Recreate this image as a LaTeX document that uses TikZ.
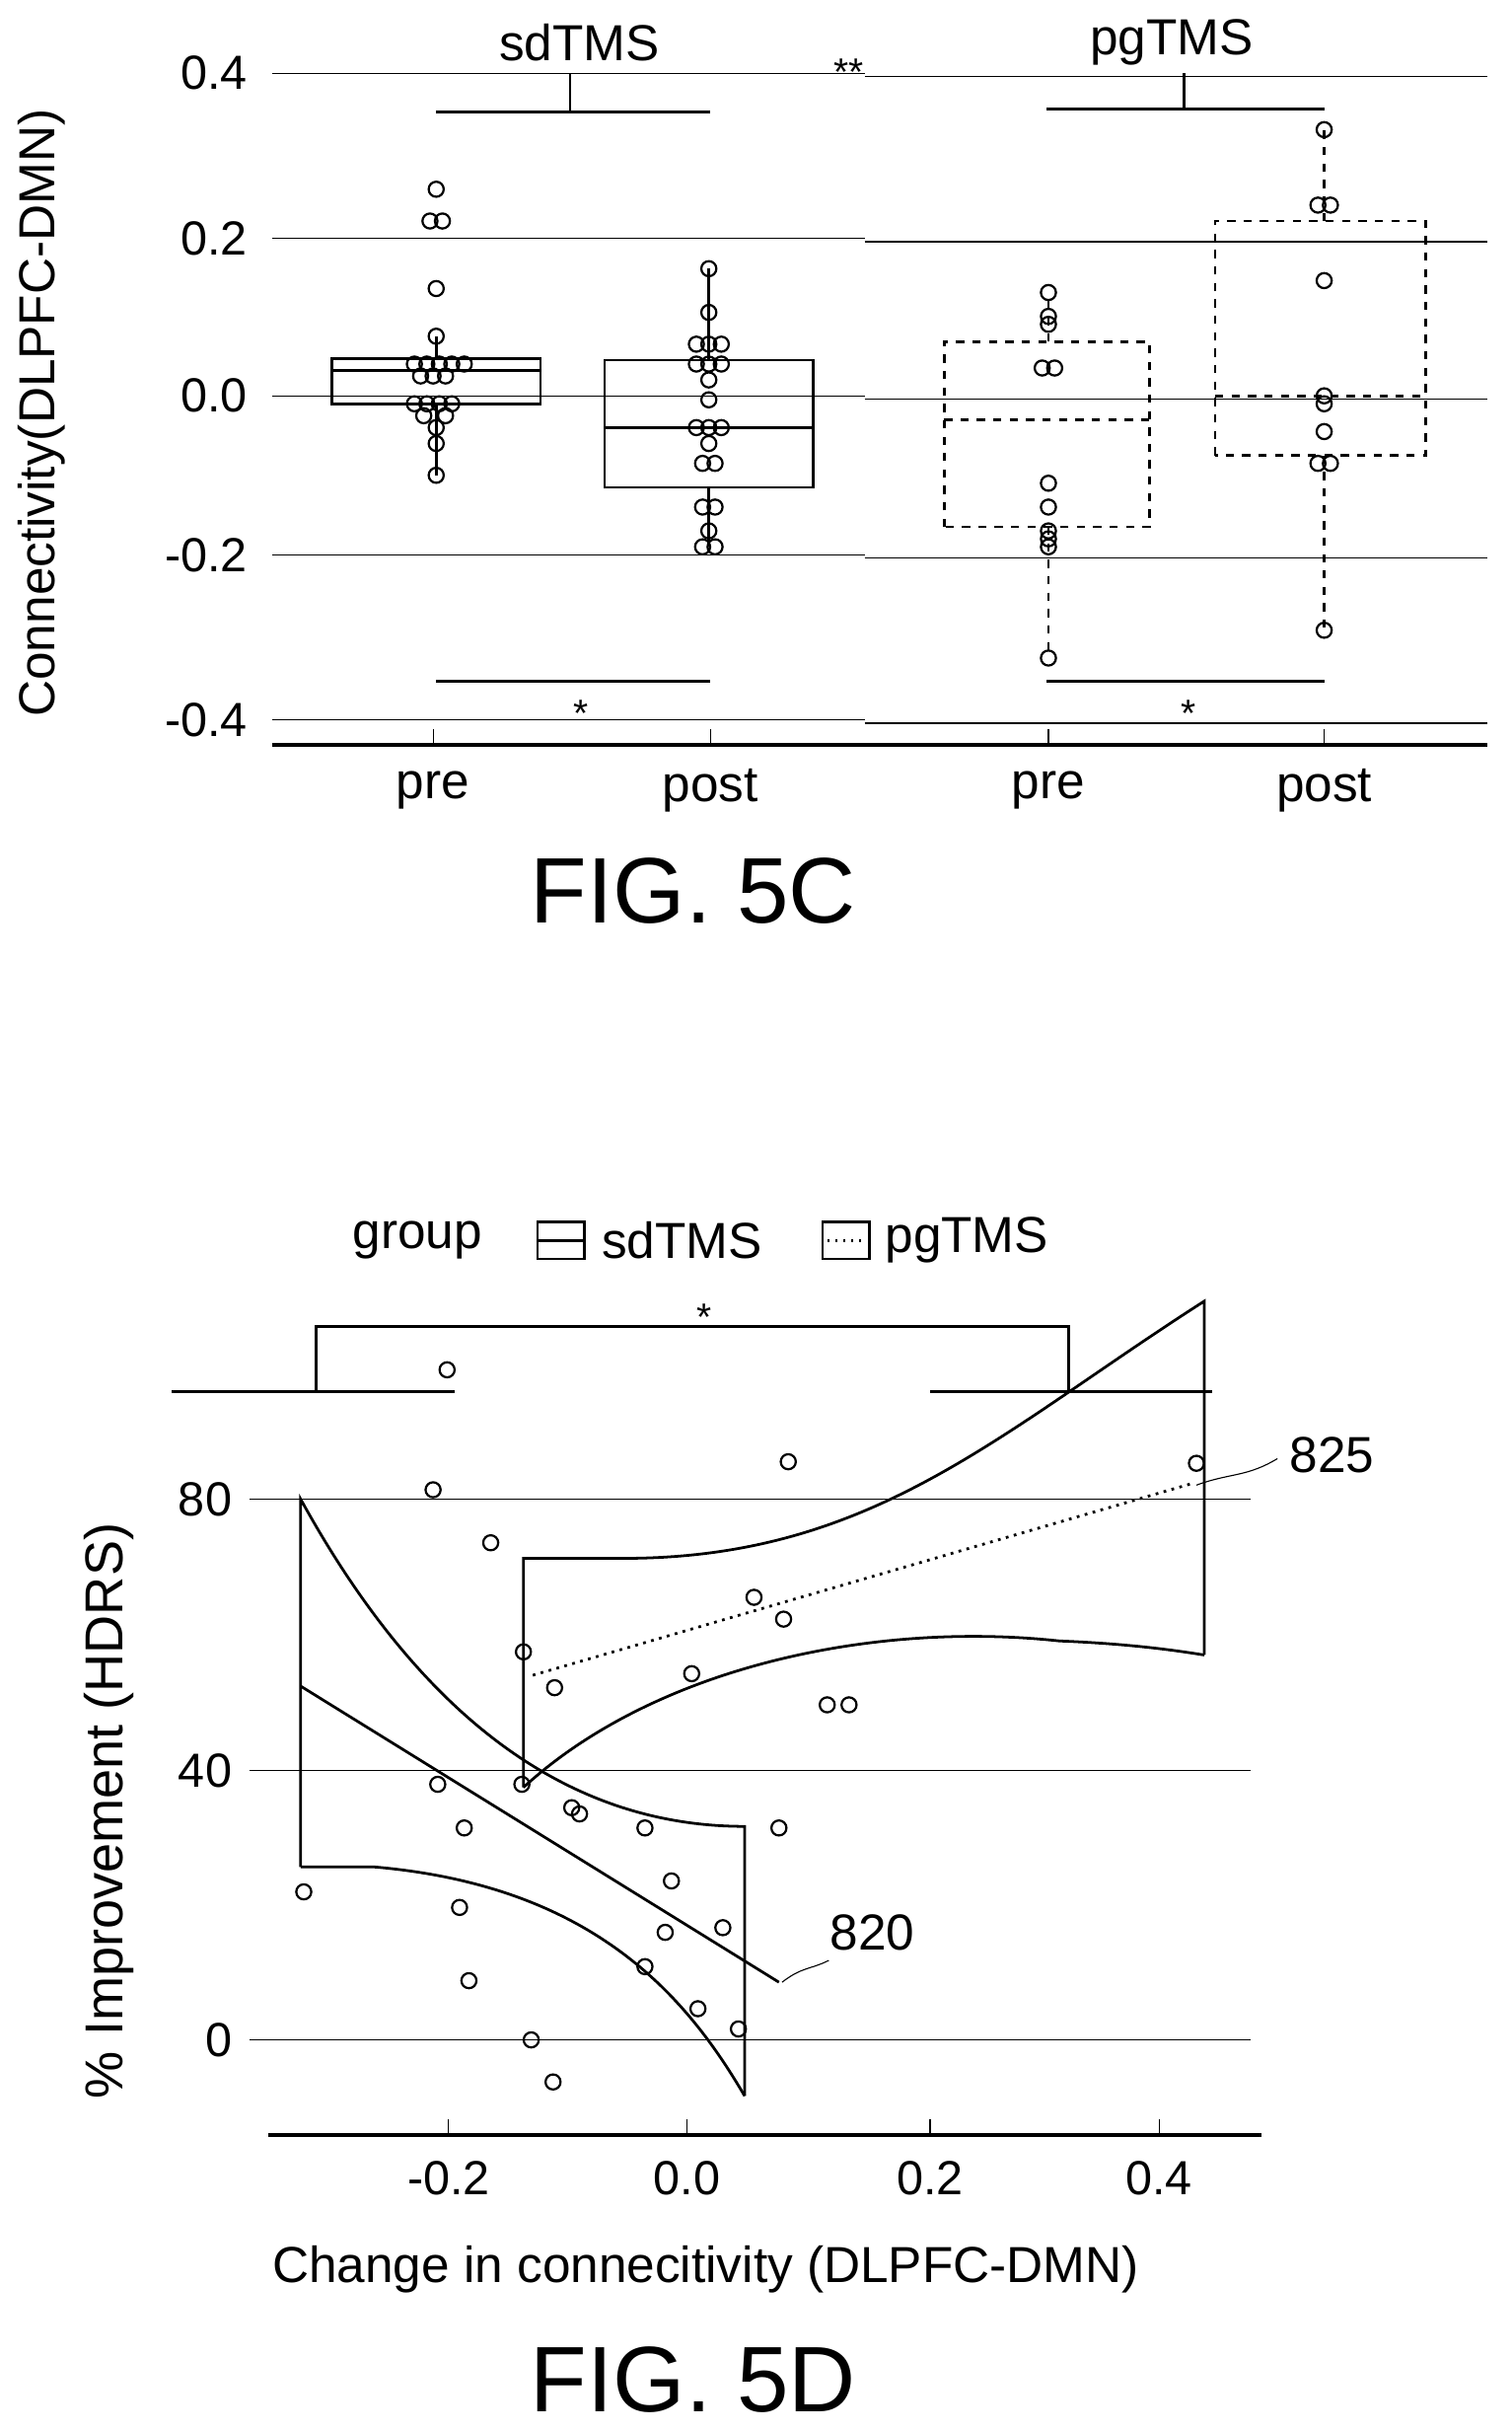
\documentclass[tikz,border=0pt]{standalone}
\usepackage{fontspec}
\setmainfont{Liberation Sans}
\usetikzlibrary{calc}

\tikzset{
  dot/.style={circle,draw,inner sep=0pt,minimum size=5.5pt,line width=0.8pt},
  grid/.style={line width=0.5pt},
  band/.style={line width=1pt},
  tick/.style={font=\fontsize{17.5}{20}\selectfont},
  lab/.style={font=\fontsize{18.5}{22}\selectfont},
  star/.style={font=\fontsize{14}{16}\selectfont},
}

\begin{document}
\begin{tikzpicture}[x=0.02cm,y=-0.02cm]
  \useasboundingbox (0,0) rectangle (970,1560);

  %% FIG. 5C: axis, grid lines and labels
  \node[lab] (sdlab) at (372,27) {sdTMS};
  \node[lab] (pglab) at (752,27) {pgTMS};
  \node[lab,rotate=90] (ylab) at (27,265) {Connectivity(DLPFC-DMN)};
  \foreach \v/\y in {0.4/47,0.2/153,0.0/254,-0.2/356,-0.4/462}
  {
    \node[tick,anchor=east] (yt\y) at (165,\y) {\v};
    \draw[grid] (175,\y) -- (555,\y);
    \draw[grid] (555,\y+2) -- (955,\y+2);
  }
  \draw[line width=1.2pt] (175,478) -- (955,478);
  \foreach \x/\t in {278/pre,456/post,673/pre,850/post}
  {
    \draw (\x,478) -- (\x,468);
    \node[lab] (xl\x) at (\x,507) {\t};
  }
  \node (FIGC) at (445,572) {\fontsize{34}{40}\selectfont FIG. 5C};

  %% significance brackets
  \draw[line width=1pt] (280,72) -- (456,72) (366,72) -- (366,47);
  \draw[line width=1pt] (672,70) -- (850,70) (760,70) -- (760,47);
  \draw[line width=1pt] (280,437) -- (456,437) (672,437) -- (850,437);
  \node[star] (s2) at (545,46) {**};
  \node[star] (s1a) at (373,458) {*};
  \node[star] (s1b) at (763,458) {*};

  %% boxes in data units
  \begin{scope}[shift={(0,254)},y=10.2cm]
    \draw[line width=0.9pt] (213,-0.01) rectangle (347,0.047) (213,0.032) -- (347,0.032);
    \draw[line width=0.9pt] (280,0.047) -- (280,0.075) (280,-0.01) -- (280,-0.1);
    \draw[line width=0.9pt] (388,-0.115) rectangle (522,0.045) (388,-0.04) -- (522,-0.04);
    \draw[line width=0.9pt] (455,0.045) -- (455,0.16) (455,-0.115) -- (455,-0.19);
    \draw[line width=1pt,dashed] (606,-0.165) rectangle (738,0.068) (606,-0.03) -- (738,-0.03);
    \draw[line width=1pt,dashed] (673,0.068) -- (673,0.13) (673,-0.165) -- (673,-0.33);
    \draw[line width=1pt,dashed] (780,-0.075) rectangle (915,0.22) (780,0.0) -- (915,0.0);
    \draw[line width=1pt,dashed] (850,0.22) -- (850,0.335) (850,-0.075) -- (850,-0.295);
    \foreach \x/\v in {280/0.26,276/0.22,284/0.22,280/0.135,280/0.075,
      266/0.04,274/0.04,282/0.04,290/0.04,298/0.04,270/0.025,278/0.025,286/0.025,
      266/-0.01,274/-0.01,282/-0.01,290/-0.01,272/-0.025,286/-0.025,280/-0.04,280/-0.06,280/-0.1,
      455/0.16,455/0.105,447/0.065,455/0.065,463/0.065,447/0.04,455/0.04,463/0.04,455/0.02,
      455/-0.005,447/-0.04,455/-0.04,463/-0.04,455/-0.06,451/-0.085,459/-0.085,
      451/-0.14,459/-0.14,455/-0.17,451/-0.19,459/-0.19,
      673/0.13,673/0.1,673/0.09,669/0.035,677/0.035,673/-0.11,673/-0.14,673/-0.17,673/-0.18,673/-0.19,673/-0.33,
      850/0.335,846/0.24,854/0.24,850/0.145,850/0.0,850/-0.01,850/-0.045,846/-0.085,854/-0.085,850/-0.295}
      \node[dot] at (\x,\v) {};
  \end{scope}

  %% FIG. 5D: legend
  \node[lab] (group) at (268,796) {group};
  \draw[line width=0.9pt] (345,784) rectangle (375,808) (345,796) -- (375,796);
  \node[lab,anchor=west] (sdleg) at (380,796) {sdTMS};
  \draw[line width=0.9pt] (528,784) rectangle (558,808);
  \draw[line width=0.9pt,dotted] (531,796) -- (556,796);
  \node[lab,anchor=west] (pgleg) at (562,796) {pgTMS};

  %% grid, axis
  \foreach \v/\y in {80/962,40/1136,0/1309}
  {
    \node[tick,anchor=east] (yd\y) at (155,\y) {\v};
    \draw[grid] (160,\y) -- (803,\y);
  }
  \node[rotate=90] (ydlab) at (70,1162) {\fontsize{19.5}{22}\selectfont \% Improvement (HDRS)};
  \draw[line width=1.2pt] (172,1370) -- (810,1370);
  \foreach \x/\t in {288/-0.2,441/0.0,597/0.2,744/0.4}
  {
    \draw (\x,1370) -- (\x,1360);
    \node[tick] (xd\x) at (\x,1398) {\t};
  }
  \node (xdlab) at (453,1456) {\fontsize{18.5}{22}\selectfont Change in connecitivity (DLPFC-DMN)};
  \node (FIGD) at (445,1527) {\fontsize{34}{40}\selectfont FIG. 5D};

  %% bracket
  \draw[line width=1pt] (203,893) -- (203,851) -- (686,851) -- (686,893);
  \draw[line width=1pt] (110,893) -- (292,893) (597,893) -- (778,893);
  \node[star] (s3) at (452,845) {*};

  %% sdTMS band and fit
  \draw[band] (193,1198) -- (193,962) .. controls (280,1120) and (380,1172) .. (478,1172) -- (478,1345);
  \draw[band] (193,1198) -- (240,1198) .. controls (380,1210) and (440,1280) .. (478,1345);
  \draw[band] (193,1082) -- (500,1272);
  \draw (502,1272) .. controls (515,1262) and (520,1264) .. (532,1258);
  \node[lab] (n820) at (560,1240) {820};

  %% pgTMS band and fit
  \draw[band] (336,1147) -- (336,1000) -- (400,1000) .. controls (560,1000) and (640,920) .. (773,835) -- (773,1062);
  \draw[band] (336,1147) .. controls (420,1070) and (560,1040) .. (680,1053) .. controls (730,1055) and (760,1060) .. (773,1062);
  \draw[band,dotted] (342,1075) -- (765,952);
  \draw (768,953) .. controls (790,945) and (800,948) .. (820,936);
  \node[lab] (n825) at (855,934) {825};

  %% points
  \foreach \x/\y in {287/879,278/956,315/990,281/1145,298/1173,295/1224,301/1271,341/1309,
    355/1336,367/1160,372/1164,414/1173,431/1207,427/1240,414/1262,448/1289,464/1237,
    474/1302,500/1173,195/1214,335/1145,
    506/938,484/1025,503/1039,444/1074,336/1060,356/1083,531/1094,545/1094,768/939}
    \node[dot] at (\x,\y) {};
\end{tikzpicture}
\end{document}
